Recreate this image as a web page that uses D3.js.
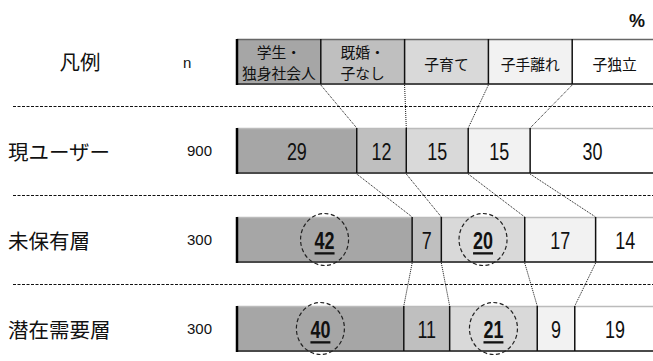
<!DOCTYPE html>
<html>
<head>
<meta charset="utf-8">
<script src="https://cdn.jsdelivr.net/npm/d3@7"></script>
<style>
  body { margin: 0; background: #fff; }
  svg { display: block; }
</style>
</head>
<body>
<svg id="chart" width="653" height="361"></svg>
<script>
// data
const categories = ["学生・\n独身社会人", "既婚・\n子なし", "子育て", "子手離れ", "子独立"];
const groups = ["現ユーザー", "未保有層", "潜在需要層"];
const sampleSizes = [900, 300, 300];
const currentUsers = [29, 12, 15, 15, 30];
const nonOwners = [42, 7, 20, 17, 14];
const potentialDemand = [40, 11, 21, 9, 19];
// index of circled / underlined segments per group
const highlights = [[], [0, 2], [0, 2]];

const colors = ["#a6a6a6", "#bfbfbf", "#d9d9d9", "#f2f2f2", "#ffffff"];
const series = [currentUsers, nonOwners, potentialDemand];

const jp = "'Noto Sans CJK JP', 'Noto Sans', sans-serif";
const latin = "'Liberation Sans', sans-serif";

const svg = d3.select("#chart");
const barLeft = 237, barRight = 654, barH = 45;

const rowKeys = ["legend"].concat(groups);
const y = d3.scalePoint().domain(rowKeys).range([39, 306]);

const legendX = d3.scaleBand().domain(categories).range([barLeft, 656]);

function rowScale(values) {
  return d3.scaleLinear().domain([0, d3.sum(values)]).range([barLeft, barRight]);
}

// boundaries (in px) of each row, incl. legend
function boundaries(rowIndex) {
  if (rowIndex === 0) return categories.map(c => legendX(c)).concat([656]);
  const values = series[rowIndex - 1];
  const x = rowScale(values);
  const cum = d3.cumsum(values);
  return [x(0)].concat(Array.from(cum, d => x(d)));
}

// dashed separators
const sepYs = rowKeys.slice(1).map(k => y(k) - 21.5);
svg.selectAll("line.sep")
  .data(sepYs)
  .enter().append("line")
  .attr("class", "sep")
  .attr("x1", 13).attr("x2", 653)
  .attr("y1", d => d).attr("y2", d => d)
  .attr("stroke", "#111")
  .attr("stroke-width", 1)
  .attr("stroke-dasharray", "3,1.5");

// dotted connectors between rows
for (let r = 0; r < rowKeys.length - 1; r++) {
  const top = boundaries(r), bottom = boundaries(r + 1);
  const y1 = y(rowKeys[r]) + barH + 1, y2 = y(rowKeys[r + 1]);
  for (let i = 1; i < 5; i++) {
    svg.append("line")
      .attr("x1", top[i]).attr("y1", y1)
      .attr("x2", bottom[i]).attr("y2", y2)
      .attr("stroke", "#111")
      .attr("stroke-width", 1)
      .attr("stroke-dasharray", "1,1");
  }
}

function drawBar(rowIndex) {
  const b = boundaries(rowIndex);
  const top = y(rowKeys[rowIndex]);
  const g = svg.append("g");
  g.selectAll("rect")
    .data(colors)
    .enter().append("rect")
    .attr("x", (d, i) => b[i])
    .attr("y", top)
    .attr("width", (d, i) => b[i + 1] - b[i])
    .attr("height", barH)
    .attr("fill", d => d);
  // top and bottom edges
  g.append("line")
    .attr("x1", barLeft).attr("x2", 656)
    .attr("y1", top + 0.5).attr("y2", top + 0.5)
    .attr("stroke", rowIndex === 0 ? "#666" : "#bbb").attr("stroke-width", 1.5);
  g.append("line")
    .attr("x1", barLeft).attr("x2", 656)
    .attr("y1", top + barH).attr("y2", top + barH)
    .attr("stroke", "#4a4a4a").attr("stroke-width", 2);
  // dividers
  g.selectAll("line.div")
    .data(b.slice(1, 5))
    .enter().append("line")
    .attr("class", "div")
    .attr("x1", d => d).attr("x2", d => d)
    .attr("y1", top).attr("y2", top + barH)
    .attr("stroke", "#111").attr("stroke-width", 1.5);
  g.append("line")
    .attr("x1", barLeft).attr("x2", barLeft)
    .attr("y1", top).attr("y2", top + barH + 1)
    .attr("stroke", "#000").attr("stroke-width", 2.5);
  return { g: g, b: b, top: top };
}

// legend row
const leg = drawBar(0);
categories.forEach((c, i) => {
  const lines = c.split("\n");
  const cx = (leg.b[i] + Math.min(leg.b[i + 1], 653)) / 2 + (i === 4 ? 2 : 0);
  const cy = leg.top + barH / 2 + (lines.length > 1 ? 0.5 : 1.5);
  lines.forEach((ln, j) => {
    leg.g.append("text")
      .attr("x", cx)
      .attr("y", cy + (j - (lines.length - 1) / 2) * 21.6)
      .attr("text-anchor", "middle")
      .attr("dominant-baseline", "central")
      .style("font", "14.8px " + jp)
      .attr("fill", "#111")
      .text(ln);
  });
});

// data rows
groups.forEach((grp, gi) => {
  const bar = drawBar(gi + 1);
  const values = series[gi];
  const cy = bar.top + barH / 2;
  values.forEach((v, i) => {
    const cx = (bar.b[i] + Math.min(bar.b[i + 1], 653)) / 2 + (i === 4 ? 1 : 0);
    const hl = highlights[gi].indexOf(i) >= 0;
    if (hl) {
      bar.g.append("ellipse")
        .attr("cx", cx).attr("cy", cy)
        .attr("rx", 24).attr("ry", 26)
        .attr("fill", "none")
        .attr("stroke", "#222")
        .attr("stroke-width", 1.2)
        .attr("stroke-dasharray", "4,2.5");
    }
    // condensed digits: squeeze horizontally
    bar.g.append("text")
      .attr("transform", "translate(" + cx + "," + (cy + 1) + ") scale(0.78,1)")
      .attr("text-anchor", "middle")
      .attr("dominant-baseline", "central")
      .style("font", (hl ? "bold " : "") + "23px " + latin)
      .style("text-decoration", hl ? "underline" : null)
      .attr("fill", "#111")
      .text(v);
  });
  svg.append("text")
    .attr("x", 8).attr("y", cy)
    .attr("dominant-baseline", "central")
    .style("font", "20.5px " + jp)
    .attr("fill", "#111")
    .text(grp);
  svg.append("text")
    .attr("x", 187).attr("y", cy)
    .attr("dominant-baseline", "central")
    .style("font", "15px " + latin)
    .attr("fill", "#111")
    .text(sampleSizes[gi]);
});

// header texts
svg.append("text")
  .attr("x", 80).attr("y", 61)
  .attr("text-anchor", "middle")
  .attr("dominant-baseline", "central")
  .style("font", "20.5px " + jp)
  .attr("fill", "#111")
  .text("凡例");
svg.append("text")
  .attr("x", 183).attr("y", 62)
  .attr("dominant-baseline", "central")
  .style("font", "15px " + latin)
  .attr("fill", "#111")
  .text("n");
svg.append("text")
  .attr("x", 637).attr("y", 21)
  .attr("text-anchor", "middle")
  .attr("dominant-baseline", "central")
  .style("font", "bold 18px " + latin)
  .attr("fill", "#111")
  .text("%");
</script>
</body>
</html>
